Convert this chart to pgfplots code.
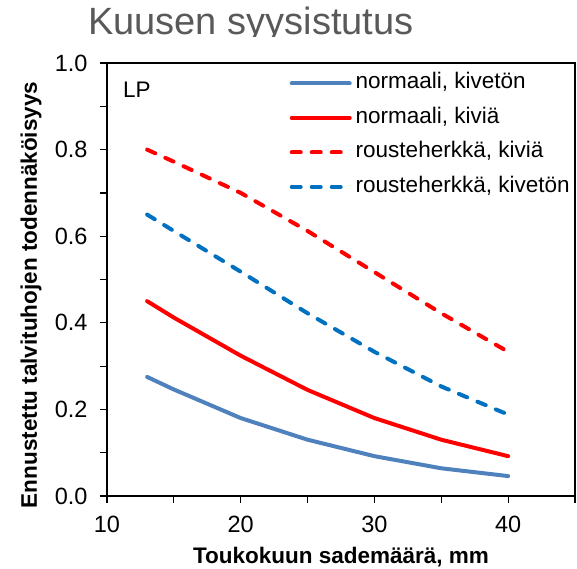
\documentclass[border=0pt]{standalone}
\usepackage{fontspec}
\setmainfont{Liberation Sans}
\usepackage{pgfplots}
\pgfplotsset{compat=1.18}
\definecolor{nblue}{HTML}{4F81BD}
\definecolor{dblue}{HTML}{0070C0}
\definecolor{tgray}{HTML}{595959}
\begin{document}
\begin{tikzpicture}[x=1pt,y=1pt]
\begin{axis}[
  scale only axis, width=468pt, height=433pt,
  xmin=10, xmax=45, ymin=0, ymax=1,
  xtick={10,20,30,40}, minor xtick={15,25,35,45},
  ytick={0,0.2,0.4,0.6,0.8,1.0}, minor ytick={0.1,0.3,0.5,0.7,0.9},
  tick align=outside, tick pos=left,
  major tick length=7pt, minor tick length=7pt,
  every tick/.style={black, line width=1.2pt},
  axis line style={black, line width=1.2pt},
  /pgf/number format/assume math mode=true,
  yticklabel style={/pgf/number format/fixed, /pgf/number format/precision=1, /pgf/number format/fixed zerofill},
  ticklabel style={font=\fontsize{23.5}{23.5}\selectfont, color=black},
  yticklabel style={xshift=-9pt},
  xticklabel style={yshift=-10pt},
  legend style={at={(rel axis cs:0.39,0.982)}, anchor=north west, draw=none, fill=none,
     font=\fontsize{22.5}{22.5}\selectfont, row sep=9.5pt, inner sep=0pt,
     nodes={inner xsep=4pt, inner ysep=2pt, text height=16pt, text depth=5pt}},
  legend cell align=left,
  legend image code/.code={\draw[#1] (0pt,0pt) -- (58pt,0pt);},
]
\addplot[nblue, line width=4pt, line cap=round] coordinates {(13,0.275) (15,0.246) (20,0.180) (25,0.130) (30,0.092) (35,0.064) (40,0.046)};
\addlegendentry{normaali, kivetön}
\addplot[red, line width=4pt, line cap=round] coordinates {(13,0.450) (15,0.412) (20,0.324) (25,0.245) (30,0.180) (35,0.130) (40,0.092)};
\addlegendentry{normaali, kiviä}
\addplot[red, line width=4pt, line cap=round, dash pattern=on 9pt off 11pt] coordinates {(13,0.800) (15,0.772) (20,0.700) (25,0.612) (30,0.517) (35,0.422) (40,0.333)};
\addlegendentry{rousteherkkä, kiviä}
\addplot[dblue, line width=4pt, line cap=round, dash pattern=on 9pt off 11pt] coordinates {(13,0.650) (15,0.612) (20,0.518) (25,0.422) (30,0.333) (35,0.253) (40,0.188)};
\addlegendentry{rousteherkkä, kivetön}
\node[anchor=north west, font=\fontsize{22.5}{22.5}\selectfont, inner sep=0pt] at (rel axis cs:0.034,0.957) {LP};
\end{axis}
\node[anchor=base, font=\fontsize{22.5}{22.5}\selectfont\bfseries, inner sep=0pt] at (234pt,-67pt) {Toukokuun sademäärä, mm};
\node[anchor=base, rotate=90, font=\fontsize{22.5}{22.5}\selectfont\bfseries, inner sep=0pt] at (-70pt,201pt) {Ennustettu talvituhojen todennäköisyys};
\begin{scope}
\clip (-107pt,459pt) rectangle (470pt,496pt);
\node[anchor=base west, inner sep=0pt, text=tgray, font=\fontsize{38}{38}\selectfont] at (-19pt,461pt) {Kuusen syysistutus};
\end{scope}
\pgfresetboundingbox
\path (-107pt,-72pt) rectangle (470pt,496pt);
\end{tikzpicture}
\end{document}
